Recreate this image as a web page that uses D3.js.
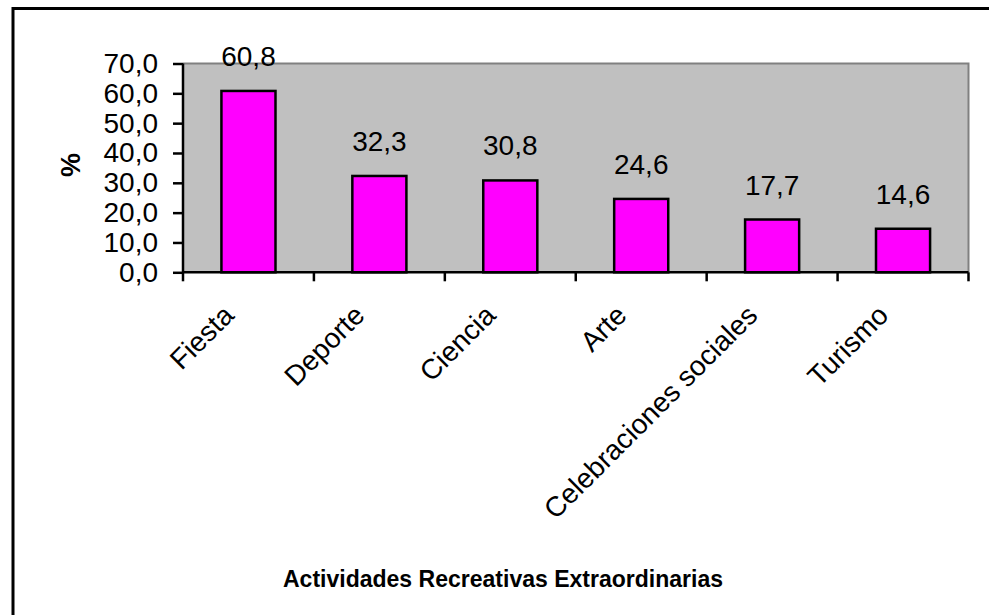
<!DOCTYPE html>
<html>
<head>
<meta charset="utf-8">
<script src="https://cdn.jsdelivr.net/npm/d3@7"></script>
<style>
  html, body { margin: 0; padding: 0; background: #ffffff; }
  svg { display: block; }
  text { font-family: "Liberation Sans", Arial, sans-serif; fill: #000; }
</style>
</head>
<body>
<svg id="chart" width="989" height="615"></svg>
<script>
const categories = ["Fiesta", "Deporte", "Ciencia", "Arte", "Celebraciones sociales", "Turismo"];
const values = [60.8, 32.3, 30.8, 24.6, 17.7, 14.6];
const yTicks = [0, 10, 20, 30, 40, 50, 60, 70];
const yTitle = "%";
const xTitle = "Actividades Recreativas Extraordinarias";

const svg = d3.select("#chart");
const W = 989, H = 615;
const plot = { left: 183, right: 968.5, top: 63.5, bottom: 272.3 };

const fmt = v => d3.format(".1f")(v).replace(".", ",");

// outer border
svg.append("rect")
  .attr("x", 13).attr("y", 8.5)
  .attr("width", W + 20).attr("height", H + 20)
  .attr("fill", "none").attr("stroke", "#000").attr("stroke-width", 3);

const x = d3.scaleBand()
  .domain(categories)
  .range([plot.left, plot.right])
  .paddingInner(0.587)
  .paddingOuter(0.2935);

const y = d3.scaleLinear().domain([0, 70]).range([plot.bottom, plot.top]);

// plot background
svg.append("rect")
  .attr("x", plot.left).attr("y", plot.top)
  .attr("width", plot.right - plot.left).attr("height", plot.bottom - plot.top)
  .attr("fill", "#c0c0c0");
svg.append("path")
  .attr("d", `M${plot.left},${plot.top}H${plot.right}V${plot.bottom}`)
  .attr("fill", "none").attr("stroke", "#808080").attr("stroke-width", 2);

// bars
svg.append("g").selectAll("rect")
  .data(values)
  .join("rect")
  .attr("x", (d, i) => x(categories[i]))
  .attr("y", d => y(d))
  .attr("width", x.bandwidth())
  .attr("height", d => y(0) - y(d))
  .attr("fill", "#ff00ff")
  .attr("stroke", "#000")
  .attr("stroke-width", 2.5);

// value labels
svg.append("g").selectAll("text")
  .data(values)
  .join("text")
  .attr("x", (d, i) => x(categories[i]) + x.bandwidth() / 2)
  .attr("y", d => y(d) - 25)
  .attr("text-anchor", "middle")
  .attr("font-size", 28)
  .text(d => fmt(d));

// y axis
const yAxis = d3.axisLeft(y).tickValues(yTicks).tickFormat(fmt).tickSize(10).tickPadding(15);
const gy = svg.append("g").attr("transform", `translate(${plot.left},0)`).call(yAxis);
gy.select(".domain").attr("stroke", "#000").attr("stroke-width", 2.5).attr("d", `M0,${plot.top}V${plot.bottom}`);
gy.selectAll(".tick line").attr("stroke", "#000").attr("stroke-width", 2.5);
gy.selectAll(".tick text")
  .attr("font-size", 28)
  .attr("font-family", "Liberation Sans, Arial, sans-serif")
  .attr("fill", "#000");

// x axis line with ticks at band edges
const edges = d3.range(categories.length + 1).map(i => plot.left + i * x.step());
const gx = svg.append("g");
gx.append("line")
  .attr("x1", plot.left).attr("x2", plot.right)
  .attr("y1", plot.bottom).attr("y2", plot.bottom)
  .attr("stroke", "#000").attr("stroke-width", 2.5);
gx.selectAll("line.tk")
  .data(edges)
  .join("line")
  .attr("class", "tk")
  .attr("x1", d => d).attr("x2", d => d)
  .attr("y1", plot.bottom).attr("y2", plot.bottom + 9)
  .attr("stroke", "#000").attr("stroke-width", 2.5);

// category labels rotated
gx.selectAll("text")
  .data(categories)
  .join("text")
  .attr("transform", d => `translate(${x(d) + x.bandwidth() / 2 - 13},317) rotate(-45)`)
  .attr("text-anchor", "end")
  .attr("font-size", 28)
  .text(d => d);

// axis titles
svg.append("text")
  .attr("transform", "translate(80,165) rotate(-90)")
  .attr("text-anchor", "middle")
  .attr("font-size", 27)
  .attr("font-weight", "bold")
  .text(yTitle);

svg.append("text")
  .attr("x", 503).attr("y", 587)
  .attr("text-anchor", "middle")
  .attr("font-size", 24)
  .attr("font-weight", "bold")
  .attr("textLength", 440)
  .attr("lengthAdjust", "spacingAndGlyphs")
  .text(xTitle);
</script>
</body>
</html>
